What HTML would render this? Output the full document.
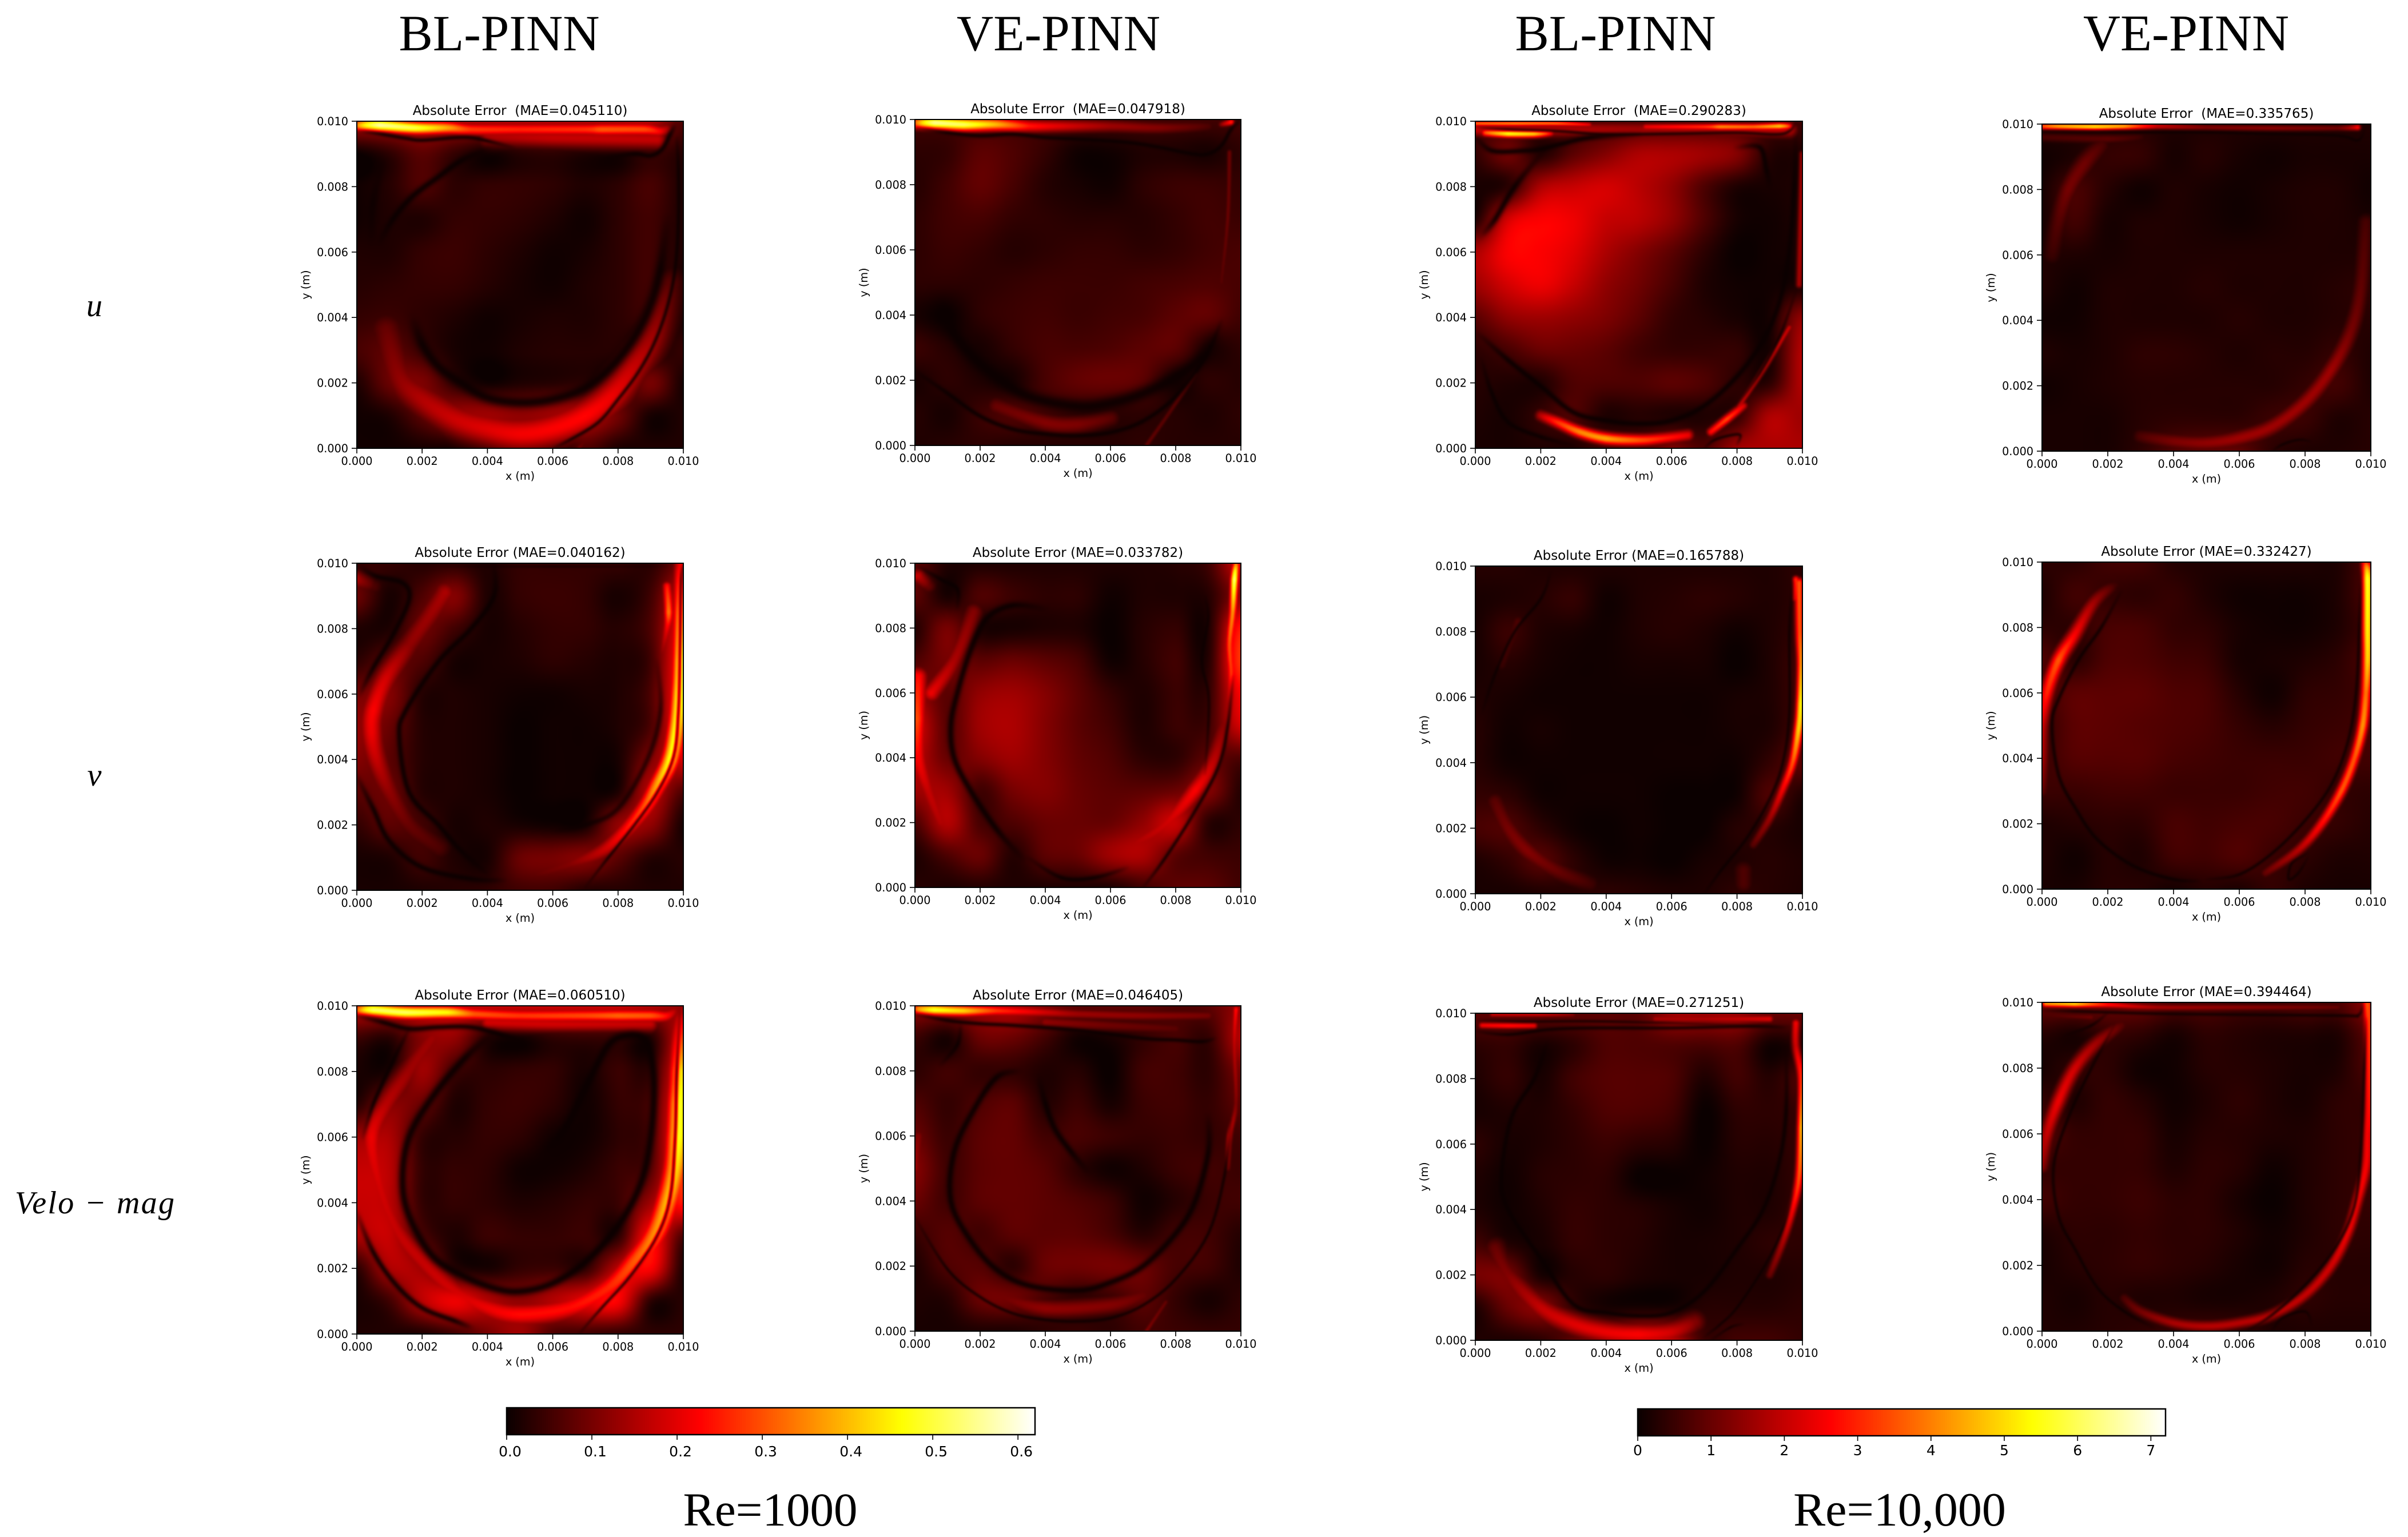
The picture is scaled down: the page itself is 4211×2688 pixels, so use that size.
<!DOCTYPE html>
<html lang="en">
<head>
<meta charset="utf-8">
<title>Absolute error comparison of BL-PINN and VE-PINN</title>
<style>
html,body{margin:0;padding:0;background:#fff;width:4211px;height:2688px;overflow:hidden}
#figure{position:absolute;left:0;top:0}
canvas{display:block;width:100%;height:100%}
.tick{font-family:"DejaVu Sans",sans-serif;font-size:19.2px;fill:#000}
.ttl{font-family:"DejaVu Sans",sans-serif;font-size:23px;fill:#000;white-space:pre}
.cb{font-family:"DejaVu Sans",sans-serif;font-size:25px;fill:#000}
.serif{font-family:"Liberation Serif",serif;fill:#000}
</style>
</head>
<body>
<svg id="figure" xmlns="http://www.w3.org/2000/svg" width="4211" height="2688" viewBox="0 0 4211 2688">
  <text class="serif" x="873" y="88" font-size="89" text-anchor="middle">BL-PINN</text>
  <text class="serif" x="1851" y="88" font-size="89" text-anchor="middle">VE-PINN</text>
  <text class="serif" x="2825" y="88" font-size="89" text-anchor="middle">BL-PINN</text>
  <text class="serif" x="3823" y="88" font-size="90" text-anchor="middle">VE-PINN</text>
  <text class="serif" x="165" y="553" font-size="56" font-style="italic" text-anchor="middle">u</text>
  <text class="serif" x="165" y="1374" font-size="56" font-style="italic" text-anchor="middle">v</text>
  <text class="serif" x="26" y="2122" font-size="56" font-style="italic" textLength="279" lengthAdjust="spacing">Velo − mag</text>
  <text class="serif" x="1347" y="2668" font-size="83" text-anchor="middle">Re=1000</text>
  <text class="serif" x="3322" y="2668" font-size="84" text-anchor="middle">Re=10,000</text>
</svg>
<script>
/* Values are % of the colour range; grid rows run y = 10 mm (top) to y = 0 mm, columns x = 0 to 10 mm. */
const xTickLabels = ["0.000","0.002","0.004","0.006","0.008","0.010"];
const yTickLabels = ["0.000","0.002","0.004","0.006","0.008","0.010"];
const cbarTicks1000 = [0,0.1,0.2,0.3,0.4,0.5,0.6];
const cbarLabels1000 = ["0.0","0.1","0.2","0.3","0.4","0.5","0.6"];
const cbarMax1000 = 0.62;
const cbarTicks10000 = [0,1,2,3,4,5,6,7];
const cbarLabels10000 = ["0","1","2","3","4","5","6","7"];
const cbarMax10000 = 7.2;
const maeValues = ["0.045110","0.047918","0.290283","0.335765","0.040162","0.033782","0.165788","0.332427","0.060510","0.046405","0.271251","0.394464"];

const gridBlU1000 = [
[25,25,25,25,25,25,25,25,25,25,10],
[0,5,12,6,1,4,5,3,2,7,4],
[1,4,10,5,6,6,5,3,5,9,3],
[1,3,3,6,6,5,3,1,5,8,3],
[3,3,6,7,5,3,1,2,5,8,3],
[4,5,6,6,4,2,1,3,5,8,2],
[6,7,5,3,1,2,3,3,5,7,2],
[9,12,7,2,1,3,4,4,4,2,6],
[3,14,17,6,1,3,4,5,3,16,2],
[1,3,12,20,22,20,22,24,15,2,3],
[1,1,2,2,3,10,3,10,3,3,3]];
const bandsBlU1000 = [
{w:.2,pts:[[.1,9.88,65],[.7,9.88,92],[1.8,9.8,82],[2.8,9.8,62],[3.5,9.75,45],[5,9.75,42],[7,9.75,44],[7.5,9.75,50],[8.8,9.75,48],[9.3,9.7,36],[9.6,9.85,15]]},
{w:.32,pts:[[4,9.55,24],[6,9.5,28],[9.2,9.45,28]]},
{w:.55,pts:[[.9,3.6,14],[1.3,2.2,20],[2,1.5,25],[3,.9,29],[4,.6,32],[5,.45,35],[6,.6,36],[7,1,37],[7.8,1.6,34],[8.5,2.5,28],[9.1,3.5,22],[9.5,5,12]]},
{w:.1,pts:[[6.8,0,15],[7.2,.5,10]]}];
const ridgesBlU1000 = [
{w:.07,pts:[[0,9.72],[.8,9.6],[1.5,9.48],[2,9.42],[3,9.5],[3.5,9.5],[4,9.4],[4.8,9.2]]},
{w:.09,pts:[[7.6,8.9],[8.5,9],[9,8.95],[9.35,9.15],[9.6,9.6],[9.75,9.9]]},
{w:.12,pts:[[.7,6.3],[1.1,7],[1.7,7.7],[2.5,8.3],[3.2,8.8],[4,9.15]]},
{w:.2,a:.9,pts:[[1.7,4],[2,3.2],[2.5,2.5],[3.2,2],[4,1.55],[5,1.4],[6,1.5],[7,1.85],[7.8,2.5],[8.5,3.4],[9,4.4],[9.3,5.5],[9.5,7]]},
{w:.06,pts:[[6,0],[6.6,.3],[7.4,.8],[8,1.5],[8.6,2.3],[9.1,3.2],[9.5,4.3],[9.75,5.5],[9.85,7],[9.85,8.5],[9.8,9.5]]},
{w:.15,a:.7,pts:[[.8,8.8],[.5,7.5],[.45,6.3]]}];

const gridVeU1000 = [
[8,8,8,8,8,8,8,8,8,8,8],
[5,6,12,10,6,1,1,3,3,2,5],
[4,8,13,9,4,2,1,5,7,7,6],
[5,8,9,6,5,4,4,4,6,8,7],
[5,7,6,4,5,6,6,5,6,8,9],
[5,5,5,6,7,7,7,8,9,10,9],
[2,0,5,7,8,7,8,9,12,13,8],
[7,4,2,6,9,9,10,12,12,3,5],
[2,5,3,2,9,13,14,12,2,5,4],
[4,2,7,10,8,6,5,5,4,3,5],
[3,4,5,4,4,4,4,5,4,4,4]];
const bandsVeU1000 = [
{w:.2,pts:[[.1,9.9,60],[.6,9.9,90],[1.5,9.85,85],[2.5,9.85,65],[3.5,9.8,40],[4.5,9.8,32],[6,9.8,22],[7.5,9.75,18],[9,9.8,10]]},
{w:.1,pts:[[9.4,9.85,20],[9.7,9.92,45]]},
{w:.08,pts:[[7.1,0,14],[7.8,1,12],[8.6,2.2,10]]},
{w:.08,pts:[[9.65,9,15],[9.6,7,15],[9.4,5,12]]},
{w:.3,pts:[[2.5,1.2,14],[4,.7,18],[5,.65,17],[6,.85,12]]}];
const ridgesVeU1000 = [
{w:.07,pts:[[0,9.75],[1,9.6],[2,9.5],[3,9.55],[4,9.45],[5,9.4],[6.5,9.3],[7.5,9.15],[8.5,8.95],[9,8.95],[9.4,9.2],[9.7,9.7],[10,10]]},
{w:.25,a:.9,pts:[[.8,4.4],[1.1,3.6],[1.7,2.8],[2.5,2.1],[3.5,1.5],[5,1.2],[6,1.3],[7,1.6],[8,2.1],[8.8,2.7],[9.3,3.5]]},
{w:.08,pts:[[0,2.3],[1,1.6],[2,.9],[3,.5],[4,.35],[5,.3],[6,.4],[7,.75],[8,1.5],[8.9,2.7],[9.4,3.8]]}];

const gridBlU10000 = [
[8,8,8,8,8,8,8,8,8,8,8],
[6,15,4,12,18,24,24,22,18,4,3],
[2,5,24,28,30,26,20,10,3,2,3],
[3,30,36,34,28,26,20,10,2,1,3],
[24,36,36,32,24,18,12,5,0,1,2],
[22,30,34,28,20,15,9,3,1,1,2],
[12,20,22,20,17,12,6,4,2,2,20],
[5,9,14,14,12,8,6,6,6,2,25],
[4,3,3,10,10,10,12,10,5,5,25],
[3,2,6,10,3,4,3,3,6,24,22],
[2,2,3,3,8,8,16,10,22,24,24]];
const bandsBlU10000 = [
{w:.18,pts:[[2,1,26],[2.5,.8,44],[3.2,.5,58],[4,.3,62],[5,.25,50],[5.7,.3,42],[6.5,.4,34]]},
{w:.13,pts:[[7.2,.5,38],[7.7,.9,48],[8.2,1.3,32]]},
{w:.06,pts:[[0,9.93,60],[1.2,9.93,65],[2.5,9.93,60],[3.5,9.9,36]]},
{w:.25,pts:[[0,9.75,28],[5,9.75,22],[9.6,9.75,28]]},
{w:.12,pts:[[.3,9.65,50],[1,9.62,78],[1.8,9.62,70],[2.3,9.65,40]]},
{w:.1,pts:[[5.2,9.83,35],[7,9.83,45],[7.5,9.83,60],[8.5,9.83,55],[9.3,9.85,70],[9.6,9.85,45]]},
{w:.1,pts:[[9.9,5,24],[9.95,7,24],[10,9,24]]},
{w:.08,pts:[[8,1.2,30],[8.8,2.4,30],[9.6,3.7,30]]}];
const ridgesBlU10000 = [
{w:.05,pts:[[.1,9.8],[1,9.75],[2.5,9.7],[4,9.6],[6,9.62],[8,9.65],[9.2,9.6],[9.6,9.7],[9.8,9.95]]},
{w:.1,pts:[[0,9.55],[.5,9.1],[1.5,9.1],[2,9.15],[2.6,9.3],[3.5,9.5],[5,9.6]]},
{w:.12,pts:[[2.1,9.1],[1.2,8],[.6,7],[.2,6.5]]},
{w:.1,pts:[[8,9.2],[8.7,9.2],[8.9,8.5],[9,8]]},
{w:.1,pts:[[.1,3.5],[1,2.7],[2,1.9],[3,1.1],[4,.85],[5,.75],[6,.85],[7,1.3],[8,2.2],[8.8,3.3],[9.3,4.5],[9.6,6],[9.75,8],[9.8,9.5]]},
{w:.05,pts:[[8,1.3],[8.7,2.3],[9.3,3.4],[9.8,4.8]]},
{w:.08,pts:[[.2,2.7],[.5,1.7],[1,.8],[2,.35],[3,.1]]},
{w:.05,pts:[[7,0],[7.3,.25],[7.8,.4],[8.1,.4],[8,.1]]}];

const gridVeU10000 = [
[4,4,4,4,3,3,3,3,3,3,3],
[1,3,6,6,2,4,2,1,2,2,2],
[2,9,4,1,3,2,1,2,3,3,1],
[2,8,2,3,3,2,1,2,3,3,2],
[3,3,2,3,3,3,3,3,3,3,3],
[3,1,3,3,3,4,3,3,3,4,5],
[1,1,3,3,3,3,4,3,3,4,4],
[3,2,3,5,5,4,3,4,4,6,3],
[1,2,3,4,4,4,4,4,6,8,3],
[2,2,2,4,5,5,5,7,7,3,4],
[2,2,2,5,10,12,12,5,3,3,4]];
const bandsVeU10000 = [
{w:.09,pts:[[0,9.93,50],[.5,9.93,65],[1.6,9.92,75],[2.5,9.93,65],[3.5,9.93,30],[5,9.9,18],[7,9.88,20],[9,9.88,16],[9.6,9.9,40]]},
{w:.15,pts:[[0,9.6,9],[2,9.55,12],[3,9.6,7]]},
{w:.25,pts:[[3,.45,10],[4,.3,17],[5,.25,20],[6,.4,22],[7,.75,22],[8,1.5,22],[8.8,2.5,22],[9.4,3.7,16],[9.7,5,13],[9.85,7,9]]},
{w:.3,pts:[[1.8,9.35,10],[1.3,8.8,15],[.8,8,16],[.5,7,11],[.3,6,7]]}];
const ridgesVeU10000 = [
{w:.04,pts:[[0,9.77],[3,9.75],[5,9.75],[7,9.7],[9,9.65],[9.6,9.5],[9.8,9.8]]},
{w:.04,pts:[[7,0],[7.3,.2],[7.8,.35],[8.2,.3]]}];

const gridBlV1000 = [
[6,6,4,5,3,6,6,6,6,5,15],
[14,2,10,18,3,6,7,6,2,8,30],
[3,3,14,8,2,4,6,6,4,10,35],
[5,12,10,2,2,3,5,4,3,8,40],
[16,18,4,3,2,1,1,2,3,10,40],
[20,14,4,3,2,0,1,1,3,10,40],
[18,12,4,3,2,0,1,1,2,18,30],
[12,14,4,3,2,0,1,1,3,25,10],
[6,12,8,2,3,2,1,2,20,20,2],
[2,3,8,3,2,14,16,18,12,4,4],
[2,2,3,4,5,8,8,4,4,3,3]];
const bandsBlV1000 = [
{w:.28,pts:[[9.97,9.9,40],[9.97,8.5,70],[9.95,7,85],[9.9,6,85],[9.8,5,80],[9.6,4,78],[9.2,3.2,62],[8.8,2.5,50],[8.2,1.8,38],[7.5,1.2,28],[6.5,.8,18],[5.5,.5,13]]},
{w:.15,pts:[[9.5,9.3,40],[9.55,8.5,55],[9.5,8,35],[9.3,7,12]]},
{w:.38,pts:[[2.7,9.1,24],[2.3,8.5,22],[1.6,7.5,20],[.9,6.5,30],[.5,5.5,36],[.45,4.8,34],[.6,4,28],[1,3,20],[1.6,2,14],[2.5,1.3,10]]},
{w:.3,pts:[[0,9.5,24],[.5,9.3,10]]}];
const ridgesBlV1000 = [
{w:.1,pts:[[.1,9.9],[.6,9.6],[1.4,9.4],[1.6,8.9],[1.1,7.8],[.5,6.8],[.1,6]]},
{w:.1,pts:[[4.2,10],[4.2,9],[3.5,8],[2.5,7],[1.5,5.5],[1.3,4.7],[1.6,3],[2.5,2],[3.2,1.2],[4,.5]]},
{w:.1,pts:[[0,3.5],[.5,2.5],[1,1.5],[2,.7],[3.5,.35],[4.5,.3]]},
{w:.1,a:.7,pts:[[9.2,7],[9.3,5.5],[8.9,4],[8,2.5],[7,2],[6,1.8]]},
{w:.05,pts:[[7,.1],[7.7,1],[8.5,2],[9.2,3],[9.7,4.1],[9.85,5.5],[9.9,7.5],[9.93,9.5],[10,10]]},
{w:.03,pts:[[2.6,9.9],[6,9.9],[9.5,9.9]]}];

const gridVeV1000 = [
[12,3,3,3,3,3,3,3,4,8,30],
[12,2,10,7,5,5,1,3,3,4,20],
[4,16,3,2,3,3,0,4,6,3,40],
[10,16,12,14,12,9,1,4,8,4,45],
[20,12,20,22,18,12,6,3,7,6,36],
[30,12,22,24,18,12,8,3,7,8,30],
[26,14,18,22,18,13,10,5,5,12,10],
[22,22,8,16,18,14,12,12,14,18,4],
[10,25,9,10,14,14,14,20,28,5,5],
[3,10,14,4,12,14,22,24,12,8,7],
[4,3,4,3,3,3,3,8,12,12,8]];
const bandsVeV1000 = [
{w:.12,pts:[[9.85,9.95,60],[9.8,9.5,90],[9.75,8.5,60],[9.65,7.5,50],[9.7,6.5,45],[9.6,5.5,18]]},
{w:.25,pts:[[.1,9.6,28],[.4,9.3,14]]},
{w:.3,pts:[[.1,6.5,38],[.05,5.2,48],[.1,4,36],[.4,3,28],[.8,2,25]]},
{w:.3,pts:[[1.8,8.5,18],[1.2,7,24],[.5,6,34]]},
{w:.3,pts:[[6,1,20],[7.5,1.8,28],[8.6,3,36],[9.2,4,26],[9.6,5.5,14]]}];
const ridgesVeV1000 = [
{w:.12,pts:[[4,8.6],[3,8.7],[2.2,8.3],[1.7,7.3],[1.3,6],[1.1,5],[1.2,4],[1.7,3],[2.5,1.8],[3.3,.9]]},
{w:.08,pts:[[.1,9.9],[.8,9.5],[1.3,9.2],[1.3,8.6]]},
{w:.06,pts:[[7,0],[7.6,.8],[8.5,2.2],[9.3,3.7],[9.6,5],[9.75,6.5]]},
{w:.05,a:.8,pts:[[8.9,3.5],[9,5],[9,6],[8.8,7],[9,8.3],[8.9,9]]},
{w:.08,pts:[[3.5,.9],[4.5,.3],[5.5,.3],[6.5,.6]]}];

const gridBlV10000 = [
[4,4,3,3,3,3,3,3,3,3,5],
[2,3,4,6,1,3,4,5,4,3,5],
[2,7,3,2,1,3,4,3,1,3,6],
[2,4,2,1,1,2,2,2,0,3,8],
[3,2,1,1,1,1,1,1,2,3,8],
[4,1,2,1,1,1,1,1,2,3,9],
[4,1,1,1,1,1,1,1,1,6,12],
[6,5,1,1,1,1,0,0,1,10,3],
[9,10,5,1,0,1,0,0,4,4,2],
[3,6,11,5,1,1,0,2,3,4,3],
[2,2,3,4,5,4,3,3,5,4,3]];
const bandsBlV10000 = [
{w:.14,pts:[[9.9,9.5,50],[9.92,8,50],[9.97,7,60],[9.95,5.8,75],[9.88,5,70],[9.7,4,50],[9.4,3.2,36],[9,2.3,22],[8.5,1.5,12]]},
{w:.1,pts:[[9.8,9.6,45],[9.8,9,35]]},
{w:.3,pts:[[.6,2.8,12],[1,2,16],[1.6,1.3,18],[2.5,.7,14],[3.5,.3,8]]},
{w:.2,pts:[[1.3,8.3,10],[.8,7,7]]},
{w:.3,pts:[[8.2,.7,10],[8.2,.3,10]]}];
const ridgesBlV10000 = [
{w:.05,pts:[[7,0],[7.5,.7],[8.3,1.7],[9,2.9],[9.4,4],[9.6,5.5],[9.6,8],[9.7,9.5]]},
{w:.05,pts:[[2.3,9.8],[2,9],[1.2,8],[.6,6.7],[.2,5.5]]}];

const gridVeV10000 = [
[5,5,8,8,4,3,3,3,3,3,10],
[3,8,6,5,6,3,1,1,1,3,10],
[5,5,9,9,6,5,2,1,1,3,8],
[10,5,10,10,8,7,2,2,3,5,10],
[8,12,12,12,10,9,4,1,5,6,8],
[6,12,12,11,10,9,6,4,6,7,8],
[7,11,11,11,9,8,7,7,7,8,8],
[7,7,8,8,7,7,7,8,8,6,5],
[3,4,5,5,9,8,9,9,7,6,4],
[3,1,4,3,8,8,10,7,5,3,3],
[2,2,4,4,2,4,3,6,3,2,2]];
const bandsVeV10000 = [
{w:.16,pts:[[9.85,9.98,45],[9.9,9.5,80],[9.9,8,75],[9.9,7,70],[9.85,6,55],[9.75,5,60],[9.5,4,50],[9.1,3,50],[8.5,2,38],[7.8,1.2,26],[6.8,.5,14]]},
{w:.22,pts:[[2.2,9.3,8],[1.6,8.8,22],[1,7.8,36],[.5,7,50],[.15,6,42],[0,5,28],[0,4,22],[0,3,12]]}];
const ridgesVeV10000 = [
{w:.06,pts:[[2.4,9.1],[1.8,8],[1.1,7],[.5,5.8],[.3,5],[.5,3.5],[1,2.5],[1.7,1.5],[2.8,.7],[4,.3],[4.8,.25]]},
{w:.05,pts:[[5,.3],[6,.45],[7,1.1],[8,2.1],[8.8,3.2],[9.3,4.5],[9.55,6],[9.65,8],[9.7,9.7]]},
{w:.04,pts:[[8.1,1],[7.8,.5],[7.5,.3],[7.6,.8],[8.1,1.1]]}];

const gridBlMag1000 = [
[28,28,28,28,28,28,28,28,28,25,20],
[7,4,18,20,4,1,5,6,6,3,30],
[2,3,22,8,5,6,6,2,7,6,36],
[4,18,14,3,6,7,5,1,6,10,40],
[22,24,6,4,6,5,1,1,5,10,45],
[28,26,6,6,5,1,1,3,7,12,45],
[28,26,6,6,5,3,4,6,7,22,40],
[24,28,10,3,7,6,6,7,5,36,10],
[5,24,22,5,2,6,7,6,26,36,3],
[2,8,26,34,25,20,25,32,36,5,4],
[3,3,3,8,16,22,10,8,6,5,5]];
const bandsBlMag1000 = [
{w:.2,pts:[[.1,9.88,60],[.5,9.88,85],[1.5,9.8,85],[2.8,9.8,75],[3.6,9.75,50],[5,9.7,45],[7,9.7,48],[8,9.7,52],[9,9.7,50],[9.5,9.7,38],[9.8,9.9,20]]},
{w:.25,pts:[[4,9.5,30],[6,9.45,30],[9,9.45,28]]},
{w:.38,pts:[[9.97,9.8,25],[9.95,8,70],[9.9,7,78],[9.85,6,78],[9.75,5,70],[9.5,4,65],[9.1,3,58],[8.5,2.2,50],[7.7,1.4,42],[6.5,.8,38],[5,.6,38],[4,.8,34],[3,1.3,30],[2,2.2,28],[1.2,3.2,28],[.7,4.5,30],[.45,6,34],[.9,7,26],[1.6,8,22],[2.3,9,22],[2.6,9.3,16]]}];
const ridgesBlMag1000 = [
{w:.1,pts:[[0,9.7],[.8,9.5],[1.6,9.3],[2.5,9.35],[3.5,9.35],[4.5,9.1],[5.2,8.9]]},
{w:.08,pts:[[1.6,9.3],[1.1,8.3],[.5,7],[.2,6]]},
{w:.15,pts:[[4.2,9.2],[3.3,8.4],[2.3,7.2],[1.6,6],[1.4,4.7],[1.6,3.6],[2.3,2.4],[3.2,1.8],[4.2,1.4],[5,1.3],[6,1.55],[7,2.2],[8,3.3],[8.7,4.6],[9,6],[9.1,7.5],[9,8.5],[8.8,9],[8.3,9.1],[7.7,8.8],[7,7.5],[6.4,6.3],[5.7,5.5]]},
{w:.1,pts:[[0,3.7],[.5,2.5],[1.2,1.5],[2,.8],[3,.4],[3.5,.2]]},
{w:.05,pts:[[6.8,0],[7.5,.8],[8.4,1.8],[9.2,3],[9.6,4.2],[9.75,6],[9.8,8],[9.9,9.9]]}];

const gridVeMag1000 = [
[20,20,22,25,18,12,12,12,10,12,20],
[7,2,14,14,8,1,2,6,9,6,25],
[5,8,6,6,3,4,0,8,8,5,16],
[10,6,10,12,4,7,2,7,8,6,12],
[14,7,12,13,8,9,7,6,7,6,8],
[18,8,12,13,11,5,1,3,7,8,7],
[14,8,12,13,12,10,7,1,4,7,8],
[7,11,8,12,12,12,9,4,8,8,4],
[3,10,11,5,14,15,16,14,9,8,3],
[3,4,14,15,9,5,7,12,6,2,5],
[2,2,3,3,5,6,5,8,7,6,6]];
const bandsVeMag1000 = [
{w:.17,pts:[[.1,9.9,60],[.6,9.88,80],[1.5,9.85,70],[2.5,9.85,45],[4,9.8,30],[5,9.75,22],[7,9.7,20],[9,9.7,16]]},
{w:.2,pts:[[4,9.5,20],[6,9.4,15],[8,9.3,12]]},
{w:.1,pts:[[9.85,9.9,40],[9.8,8.8,28],[9.85,7,18],[9.65,6,30],[9.6,5,15]]},
{w:.3,pts:[[2.5,1.1,14],[4,.7,20],[6,.8,18],[7,1.1,14]]},
{w:.08,pts:[[7.1,0,18],[7.7,.9,14]]},
{w:.2,pts:[[.1,6,18],[0,5,22]]}];
const ridgesVeMag1000 = [
{w:.07,pts:[[0,9.75],[1,9.55],[2,9.45],[3,9.4],[5,9.25],[7,9],[8,8.95],[8.8,8.9],[9.2,9]]},
{w:.08,pts:[[1.4,9.4],[1.3,8.8],[.8,8.2]]},
{w:.12,pts:[[3.2,8],[2.5,7.8],[1.8,6.8],[1.2,5.5],[1.1,4],[1.7,2.8],[2.5,1.9],[3.5,1.4],[5,1.25],[6,1.5],[7,2],[8,3],[8.6,4],[9,5.5],[9,6.6]]},
{w:.12,pts:[[3.8,7.8],[4,7],[4.3,6.2],[4.8,5.5],[5.3,4.9]]},
{w:.05,pts:[[0,3.5],[1,1.9],[2,1.05],[3,.55],[4,.35],[5,.3],[6,.4],[7,.8],[8,1.6],[9,3],[9.5,4.8],[9.7,6.5]]}];

const gridBlMag10000 = [
[12,12,12,12,12,12,22,22,22,14,14],
[5,6,2,5,10,10,10,9,10,1,4],
[3,6,2,8,11,11,10,3,8,4,10],
[2,3,3,6,10,10,8,0,5,5,6],
[5,2,3,5,7,5,4,0,4,4,6],
[3,1,4,5,5,0,0,1,3,3,6],
[3,1,3,6,5,4,2,1,3,3,6],
[8,3,2,6,5,4,2,2,3,5,5],
[16,16,2,4,5,3,2,2,3,3,4],
[3,14,18,6,2,2,2,4,4,4,5],
[3,3,5,12,20,30,26,7,8,8,6]];
const bandsBlMag10000 = [
{w:.1,pts:[[.2,9.63,36],[1,9.62,40],[1.8,9.62,35]]},
{w:.06,pts:[[.5,9.95,30],[2,9.95,30],[3,9.95,20]]},
{w:.12,pts:[[5.5,9.83,24],[7,9.83,25],[9,9.83,32]]},
{w:.13,pts:[[9.8,9.7,36],[9.8,9,30],[9.97,8,45],[9.97,6.5,65],[9.9,5,50],[9.7,4,36],[9.4,3,24],[9,2,14]]},
{w:.35,pts:[[.6,2.8,14],[1,2,18],[2,1,28],[3,.5,32],[4,.25,34],[5,.18,36],[6,.25,30],[6.7,.55,18]]}];
const ridgesBlMag10000 = [
{w:.08,pts:[[2.2,9.1],[1.8,8],[1.1,6.8],[.8,5],[1,4],[2,2.5],[3,1.1],[4,.85],[5,.75],[6,.85],[7,1.5],[8,2.8],[8.8,4],[9.3,5.5],[9.5,7],[9.5,9]]},
{w:.04,pts:[[.1,9.8],[1.5,9.75],[4,9.75],[9.6,9.6]]},
{w:.06,pts:[[0,9.45],[1,9.35],[2.2,9.5],[3.5,9.55],[6,9.55],[8.5,9.6],[9.5,9.55]]},
{w:.04,pts:[[7,.1],[7.5,.5],[8,1],[8.8,2.2],[9.4,3.4],[9.7,4.5]]},
{w:.04,pts:[[7.2,0],[7.8,.4],[8.2,.5]]}];

const gridVeMag10000 = [
[14,14,14,14,10,10,8,8,10,10,20],
[4,2,6,5,2,5,4,3,3,3,12],
[2,5,5,1,1,4,4,3,2,3,10],
[6,3,6,4,1,3,5,3,2,5,6],
[10,6,6,6,2,4,4,3,3,5,6],
[6,6,6,6,3,5,4,1,3,5,6],
[8,6,6,7,5,5,2,0,3,5,6],
[3,5,5,6,5,5,3,1,3,5,5],
[2,4,5,6,5,4,2,1,4,4,4],
[3,2,4,3,3,2,2,3,5,4,4],
[3,3,4,5,6,7,6,3,3,3,3]];
const bandsVeMag10000 = [
{w:.1,pts:[[.1,9.96,60],[1,9.95,70],[2,9.93,40],[3.5,9.85,24],[6,9.85,20],[9,9.85,14]]},
{w:.1,pts:[[.2,9.6,10],[1.5,9.55,15]]},
{w:.17,pts:[[9.9,9.95,50],[9.95,9,45],[9.95,7,40],[9.9,6,36],[9.85,5,36],[9.6,4,36],[9.3,3,34],[8.8,2,30],[8,1.1,28],[7,.5,26],[6,.25,26],[5,.15,26],[4,.25,24],[3,.6,16],[2.5,1,10]]},
{w:.22,pts:[[2.4,9.3,12],[1.7,8.8,22],[1,8,30],[.5,7,34],[.15,6,28],[0,5,18]]}];
const ridgesVeMag10000 = [
{w:.05,pts:[[0,9.75],[1,9.73],[2,9.7],[4,9.65],[9,9.6],[9.6,9.6],[9.75,9.9]]},
{w:.05,pts:[[2,9.68],[1.5,9.3],[.7,9]]},
{w:.05,pts:[[2.2,9.3],[1.5,8],[.8,6.5],[.35,5],[.5,3.5],[1,2.5],[1.7,1.3],[2.5,.6],[3.4,.1]]},
{w:.05,pts:[[6.2,0],[7,.5],[8,1.4],[8.9,2.5],[9.5,3.8],[9.7,5.5],[9.8,8],[9.85,9.5]]},
{w:.04,pts:[[7,0],[7.3,.4],[8,.6],[8.2,.2]]}];

const panelLayout = [
{n:"u-bl-re1000",l:624,r:1195,t:212,b:784,sp:"  ",g:gridBlU1000,bd:bandsBlU1000,rd:ridgesBlU1000},
{n:"u-ve-re1000",l:1600,r:2170,t:209,b:779,sp:"  ",g:gridVeU1000,bd:bandsVeU1000,rd:ridgesVeU1000},
{n:"u-bl-re10000",l:2580,r:3152,t:212,b:784,sp:"  ",g:gridBlU10000,bd:bandsBlU10000,rd:ridgesBlU10000},
{n:"u-ve-re10000",l:3571,r:4146,t:217,b:789,sp:"  ",g:gridVeU10000,bd:bandsVeU10000,rd:ridgesVeU10000},
{n:"v-bl-re1000",l:624,r:1195,t:985,b:1557,sp:" ",g:gridBlV1000,bd:bandsBlV1000,rd:ridgesBlV1000},
{n:"v-ve-re1000",l:1600,r:2170,t:985,b:1552,sp:" ",g:gridVeV1000,bd:bandsVeV1000,rd:ridgesVeV1000},
{n:"v-bl-re10000",l:2580,r:3152,t:990,b:1563,sp:" ",g:gridBlV10000,bd:bandsBlV10000,rd:ridgesBlV10000},
{n:"v-ve-re10000",l:3571,r:4146,t:983,b:1555,sp:" ",g:gridVeV10000,bd:bandsVeV10000,rd:ridgesVeV10000},
{n:"mag-bl-re1000",l:624,r:1195,t:1759,b:2333,sp:" ",g:gridBlMag1000,bd:bandsBlMag1000,rd:ridgesBlMag1000},
{n:"mag-ve-re1000",l:1600,r:2170,t:1759,b:2328,sp:" ",g:gridVeMag1000,bd:bandsVeMag1000,rd:ridgesVeMag1000},
{n:"mag-bl-re10000",l:2580,r:3152,t:1772,b:2344,sp:" ",g:gridBlMag10000,bd:bandsBlMag10000,rd:ridgesBlMag10000},
{n:"mag-ve-re10000",l:3571,r:4146,t:1753,b:2328,sp:" ",g:gridVeMag10000,bd:bandsVeMag10000,rd:ridgesVeMag10000}];

const NS = "http://www.w3.org/2000/svg";
const svg = document.getElementById("figure");
const RES = 288;
const RIDGE_WIDTH_FACTOR = 0.85;
const minDist = new Float32Array(RES * RES);
const minVal = new Float32Array(RES * RES);

function make(tag, attrs, parent, txt) {
  const el = document.createElementNS(NS, tag);
  for (const k in attrs) el.setAttribute(k, attrs[k]);
  if (txt !== undefined) el.textContent = txt;
  parent.appendChild(el);
  return el;
}
function hot(t) {
  const c = v => Math.max(0, Math.min(1, v));
  return [255 * c(0.0416 + 0.9584 * t / 0.365), 255 * c((t - 0.365) / 0.381), 255 * c((t - 0.746) / 0.254)];
}
function cr(a, b, c, d, t) {
  return 0.5 * (2 * b + (c - a) * t + (2 * a - 5 * b + 4 * c - d) * t * t + (3 * b - a - 3 * c + d) * t * t * t);
}
function sampleGrid(g, cx, ry) {
  const n = g.length - 1, m = g[0].length - 1;
  const i = Math.min(n - 1, Math.floor(ry)), j = Math.min(m - 1, Math.floor(cx));
  const tr = ry - i, tc = cx - j;
  const row = k => {
    const q = g[Math.max(0, Math.min(n, k))];
    return cr(q[Math.max(0, j - 1)], q[j], q[j + 1], q[Math.min(m, j + 2)], tc);
  };
  return cr(row(i - 1), row(i), row(i + 1), row(i + 2), tr);
}
function smoothLine(pts) {
  const out = [];
  for (let i = 0; i < pts.length - 1; i++) {
    const p0 = pts[Math.max(0, i - 1)], p1 = pts[i], p2 = pts[i + 1], p3 = pts[Math.min(pts.length - 1, i + 2)];
    for (let s = 0; s < 6; s++) {
      const t = s / 6;
      out.push([cr(p0[0], p1[0], p2[0], p3[0], t), cr(p0[1], p1[1], p2[1], p3[1], t), (p1[2] || 0) + ((p2[2] || 0) - (p1[2] || 0)) * t]);
    }
  }
  const e = pts[pts.length - 1];
  out.push([e[0], e[1], e[2] || 0]);
  return out;
}
function splat(line, w, apply) {
  minDist.fill(1e9);
  const R = 3 * w, pts = smoothLine(line), px = 10 / RES;
  for (let s = 0; s < pts.length - 1; s++) {
    const a = pts[s], b = pts[s + 1];
    const x0 = Math.max(0, Math.floor((Math.min(a[0], b[0]) - R) / px));
    const x1 = Math.min(RES - 1, Math.ceil((Math.max(a[0], b[0]) + R) / px));
    const y0 = Math.max(0, Math.floor((10 - Math.max(a[1], b[1]) - R) / px));
    const y1 = Math.min(RES - 1, Math.ceil((10 - Math.min(a[1], b[1]) + R) / px));
    const dx = b[0] - a[0], dy = b[1] - a[1], len = dx * dx + dy * dy || 1e-9;
    for (let j = y0; j <= y1; j++) {
      const y = 10 - (j + 0.5) * px;
      for (let i = x0; i <= x1; i++) {
        const x = (i + 0.5) * px;
        let t = ((x - a[0]) * dx + (y - a[1]) * dy) / len;
        t = t < 0 ? 0 : t > 1 ? 1 : t;
        const ex = x - a[0] - t * dx, ey = y - a[1] - t * dy, d = ex * ex + ey * ey;
        const k = j * RES + i;
        if (d < minDist[k]) { minDist[k] = d; minVal[k] = a[2] + (b[2] - a[2]) * t; }
      }
    }
  }
  const lim = R * R, w2 = w * w;
  for (let k = 0; k < RES * RES; k++) {
    if (minDist[k] < lim) apply(k, Math.exp(-minDist[k] / w2), minVal[k]);
  }
}
function softenField(f) {
  const o = new Float32Array(f.length);
  for (let j = 0; j < RES; j++) {
    for (let i = 0; i < RES; i++) {
      let sum = 0, wt = 0;
      for (let dj = -1; dj <= 1; dj++) {
        for (let di = -1; di <= 1; di++) {
          const jj = j + dj, ii = i + di;
          if (jj < 0 || jj >= RES || ii < 0 || ii >= RES) continue;
          const q = (2 - Math.abs(di)) * (2 - Math.abs(dj));
          sum += f[jj * RES + ii] * q;
          wt += q;
        }
      }
      o[j * RES + i] = sum / wt;
    }
  }
  return o;
}
function renderField(p) {
  const f = new Float32Array(RES * RES), cols = p.g[0].length - 1, rows = p.g.length - 1;
  for (let j = 0; j < RES; j++) {
    for (let i = 0; i < RES; i++) {
      f[j * RES + i] = Math.max(0, sampleGrid(p.g, (i + 0.5) / RES * cols, (j + 0.5) / RES * rows));
    }
  }
  for (const b of p.bd) splat(b.pts, b.w, (k, g, v) => { f[k] = Math.max(f[k], v * g); });
  for (const r of p.rd) {
    const a = r.a === undefined ? 0.92 : r.a;
    const last = r.pts.length - 1;
    const tapered = r.pts.map((q, i) => [q[0], q[1], (i === 0 || i === last) ? 0.15 : 1]);
    splat(tapered, r.w * RIDGE_WIDTH_FACTOR, (k, g, v) => { f[k] *= 1 - a * v * g; });
  }
  return softenField(f);
}

panelLayout.forEach((p, idx) => {
  const xPos = m => p.l + (m / 0.01) * (p.r - p.l);
  const yPos = m => p.b - (m / 0.01) * (p.b - p.t);
  const group = make("g", {}, svg);
  
  

  /* coarse cell layer: one rect per grid value, refined by the canvas above it */
  const cells = make("g", {}, group);
  
  
  const rows = p.g.length - 1, cols = p.g[0].length - 1;
  p.g.forEach((line, r) => line.forEach((val, c) => {
    const mx0 = Math.max(0, (c - 0.5) / cols * 0.01), mx1 = Math.min(0.01, (c + 0.5) / cols * 0.01);
    const my1 = Math.min(0.01, (rows - r + 0.5) / rows * 0.01), my0 = Math.max(0, (rows - r - 0.5) / rows * 0.01);
    const col = hot(val / 100);
    const cell = make("rect", {x: xPos(mx0), y: yPos(my1), width: xPos(mx1) - xPos(mx0), height: yPos(my0) - yPos(my1), fill: `rgb(${col[0] | 0},${col[1] | 0},${col[2] | 0})`}, cells);
    
    
  }));

  /* smooth field computed from the grid, band and ridge arrays */
  const fo = make("foreignObject", {x: p.l, y: p.t, width: p.r - p.l, height: p.b - p.t}, group);
  
  
  const canvas = document.createElement("canvas");
  canvas.width = RES;
  canvas.height = RES;
  
  
  fo.appendChild(canvas);
  const ctx = canvas.getContext("2d");
  const img = ctx.createImageData(RES, RES);
  const f = renderField(p);
  for (let k = 0; k < RES * RES; k++) {
    const c = hot(f[k] / 100);
    img.data[k * 4] = c[0];
    img.data[k * 4 + 1] = c[1];
    img.data[k * 4 + 2] = c[2];
    img.data[k * 4 + 3] = 255;
  }
  ctx.putImageData(img, 0, 0);

  const frame = make("rect", {x: p.l, y: p.t, width: p.r - p.l, height: p.b - p.t, fill: "none", stroke: "#000", "stroke-width": 2}, group);
  
  

  xTickLabels.forEach(label => {
    const v = parseFloat(label);
    const tk = make("line", {x1: xPos(v), x2: xPos(v), y1: p.b, y2: p.b + 9, stroke: "#000", "stroke-width": 1.6}, group);
    
    
    const tx = make("text", {class: "tick", x: xPos(v), y: p.b + 29, "text-anchor": "middle"}, group, label);
    
    
  });
  yTickLabels.forEach(label => {
    const v = parseFloat(label);
    const tk = make("line", {x1: p.l - 9, x2: p.l, y1: yPos(v), y2: yPos(v), stroke: "#000", "stroke-width": 1.6}, group);
    
    
    const tx = make("text", {class: "tick", x: p.l - 15, y: yPos(v) + 7, "text-anchor": "end"}, group, label);
    
    
  });
  const xl = make("text", {class: "tick", x: (p.l + p.r) / 2, y: p.b + 55, "text-anchor": "middle"}, group, "x (m)");
  
  
  const cy = (p.t + p.b) / 2, ylx = p.l - 83;
  const yl = make("text", {class: "tick", x: ylx, y: cy, "text-anchor": "middle", transform: `rotate(-90 ${ylx} ${cy})`}, group, "y (m)");
  
  
  const tl = make("text", {class: "ttl", x: (p.l + p.r) / 2, y: p.t - 11, "text-anchor": "middle"}, group, "Absolute Error" + p.sp + "(MAE=" + maeValues[idx] + ")");
  
  
});

function drawColorbar(name, x0, x1, y0, y1, maxVal, ticks, labels, labelY, labelShift) {
  const xPos = v => x0 + (v / maxVal) * (x1 - x0);
  const g = make("g", {}, svg);
  
  
  const steps = 256;
  for (let i = 0; i < steps; i++) {
    const c = hot((i + 0.5) / steps);
    const sv = i / steps * maxVal, ev = (i + 1) / steps * maxVal;
    const seg = make("rect", {x: xPos(sv), y: y0, width: xPos(ev) - xPos(sv) + 0.6, height: y1 - y0, fill: `rgb(${c[0] | 0},${c[1] | 0},${c[2] | 0})`}, g);
    
    
  }
  const fr = make("rect", {x: x0, y: y0, width: x1 - x0, height: y1 - y0, fill: "none", stroke: "#000", "stroke-width": 2.5}, g);
  
  
  ticks.forEach((v, i) => {
    const tk = make("line", {x1: xPos(v), x2: xPos(v), y1: y1, y2: y1 + 9, stroke: "#000", "stroke-width": 1.6}, g);
    
    
    const tx = make("text", {class: "cb", x: xPos(v) + labelShift, y: labelY, "text-anchor": "middle"}, g, labels[i]);
    
    
  });
}
drawColorbar("re1000", 886, 1810, 2462, 2509, cbarMax1000, cbarTicks1000, cbarLabels1000, 2547, 6);
drawColorbar("re10000", 2864, 3787, 2464, 2511, cbarMax10000, cbarTicks10000, cbarLabels10000, 2545, 0);
</script>
</body>
</html>
